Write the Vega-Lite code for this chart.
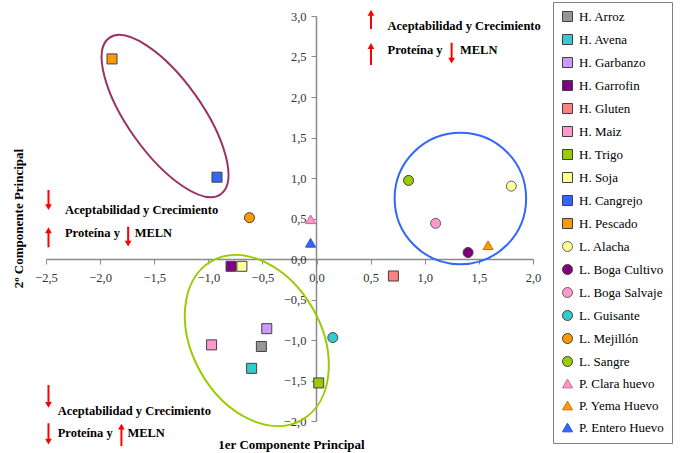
{
  "$schema": "https://vega.github.io/schema/vega-lite/v6.json",
  "width": 487,
  "height": 405,
  "autosize": "none",
  "padding": {"left": 46, "top": 16, "right": 149, "bottom": 32},
  "background": "white",
  "config": {"view": {"stroke": null}, "font": "Liberation Serif, Times New Roman, serif"},
  "datasets": {
    "points": [
      {"name": "H. Arroz", "x": -0.51, "y": -1.08},
      {"name": "H. Avena", "x": -0.60, "y": -1.35},
      {"name": "H. Garbanzo", "x": -0.46, "y": -0.86},
      {"name": "H. Garrofin", "x": -0.79, "y": -0.09},
      {"name": "H. Gluten", "x": 0.71, "y": -0.21},
      {"name": "H. Maiz", "x": -0.97, "y": -1.06},
      {"name": "H. Trigo", "x": 0.02, "y": -1.53},
      {"name": "H. Soja", "x": -0.69, "y": -0.09},
      {"name": "H. Cangrejo", "x": -0.92, "y": 1.01},
      {"name": "H. Pescado", "x": -1.89, "y": 2.47},
      {"name": "L. Alacha", "x": 1.80, "y": 0.90},
      {"name": "L. Boga Cultivo", "x": 1.40, "y": 0.08},
      {"name": "L. Boga Salvaje", "x": 1.10, "y": 0.44},
      {"name": "L. Guisante", "x": 0.15, "y": -0.97},
      {"name": "L. Mejillón", "x": -0.62, "y": 0.51},
      {"name": "L. Sangre", "x": 0.85, "y": 0.97},
      {"name": "P. Clara huevo", "x": -0.055, "y": 0.49},
      {"name": "P. Yema Huevo", "x": 1.585, "y": 0.17},
      {"name": "P. Entero Huevo", "x": -0.055, "y": 0.20}
    ],
    "arrows": [
      {"x": 0.503, "y": 2.84, "y2": 3.04, "dir": "up"},
      {"x": 0.503, "y": 2.395, "y2": 2.63, "dir": "up"},
      {"x": 1.248, "y": 2.67, "y2": 2.45, "dir": "down"},
      {"x": -2.477, "y": 0.852, "y2": 0.64, "dir": "down"},
      {"x": -2.477, "y": 0.144, "y2": 0.355, "dir": "up"},
      {"x": -1.741, "y": 0.399, "y2": 0.19, "dir": "down"},
      {"x": -2.477, "y": -1.556, "y2": -1.80, "dir": "down"},
      {"x": -2.477, "y": -2.028, "y2": -2.255, "dir": "down"},
      {"x": -1.803, "y": -2.309, "y2": -2.07, "dir": "up"}
    ],
    "notes": [
      {"x": 0.656, "y": 2.877, "label": "Aceptabilidad y Crecimiento"},
      {"x": 0.656, "y": 2.58, "label": "Proteína y"},
      {"x": 1.325, "y": 2.58, "label": "MELN"},
      {"x": -2.325, "y": 0.605, "label": "Aceptabilidad y Crecimiento"},
      {"x": -2.325, "y": 0.325, "label": "Proteína y"},
      {"x": -1.681, "y": 0.325, "label": "MELN"},
      {"x": -2.392, "y": -1.877, "label": "Aceptabilidad y Crecimiento"},
      {"x": -2.392, "y": -2.15, "label": "Proteína y"},
      {"x": -1.748, "y": -2.146, "label": "MELN"}
    ]
  },
  "encoding": {
    "x": {
      "field": "x", "type": "quantitative",
      "scale": {"domain": [-2.5, 2.0], "nice": false, "zero": false},
      "axis": {
        "values": [-2.5, -2, -1.5, -1, -0.5, 0, 0.5, 1, 1.5, 2],
        "labelExpr": "replace(format(datum.value, '.1f'), '.', ',')",
        "offset": -162, "grid": false,
        "domainColor": "#8a8a8a", "domainWidth": 1.5,
        "tickColor": "#8a8a8a", "tickSize": 5, "tickWidth": 1,
        "labelFont": "Liberation Serif, Times New Roman, serif", "labelFontSize": 12.5, "labelColor": "#333333",
        "labelPadding": 7, "labelFlush": false, "labelOverlap": false,
        "title": "1er Componente Principal",
        "titleFont": "Liberation Serif, Times New Roman, serif", "titleFontSize": 13, "titleFontWeight": "bold", "titleColor": "#000000",
        "titleX": 245, "titleY": 185, "titleAlign": "center", "titleBaseline": "middle"
      }
    },
    "y": {
      "field": "y", "type": "quantitative",
      "scale": {"domain": [-2.0, 3.0], "nice": false, "zero": false},
      "axis": {
        "values": [-2, -1.5, -1, -0.5, 0, 0.5, 1, 1.5, 2, 2.5, 3],
        "labelExpr": "replace(format(datum.value, '.1f'), '.', ',')",
        "offset": -270, "grid": false,
        "domainColor": "#8a8a8a", "domainWidth": 1.5,
        "tickColor": "#8a8a8a", "tickSize": 5, "tickWidth": 1,
        "labelFont": "Liberation Serif, Times New Roman, serif", "labelFontSize": 12.5, "labelColor": "#333333",
        "labelPadding": 5, "labelFlush": false, "labelOverlap": false,
        "title": "2º Componente Principal",
        "titleFont": "Liberation Serif, Times New Roman, serif", "titleFontSize": 13, "titleFontWeight": "bold", "titleColor": "#000000",
        "titleX": -298, "titleY": 202, "titleAngle": -90, "titleAlign": "center", "titleBaseline": "middle"
      }
    }
  },
  "layer": [
    {
      "data": {"values": [{"group": "pescado-cangrejo", "x": -1.40, "y": 1.765}]},
      "mark": {
        "type": "point", "filled": false, "stroke": "#993366", "strokeWidth": 2, "opacity": 1,
        "shape": "M 1 0 C 1 0.2127 0.5523 0.385 0 0.385 C -0.5523 0.385 -1 0.2127 -1 0 C -1 -0.2127 -0.5523 -0.385 0 -0.385 C 0.5523 -0.385 1 -0.2127 1 0 Z",
        "size": 36864, "angle": 54.5
      }
    },
    {
      "data": {"values": [{"group": "harinas", "x": -0.552, "y": -1.006}]},
      "mark": {
        "type": "point", "filled": false, "stroke": "#99cc00", "strokeWidth": 2, "opacity": 1,
        "shape": "M 1 0 C 1 0.39 0.5523 0.706 0 0.706 C -0.5523 0.706 -1 0.39 -1 0 C -1 -0.39 -0.5523 -0.706 0 -0.706 C 0.5523 -0.706 1 -0.39 1 0 Z",
        "size": 33343, "angle": 60.3
      }
    },
    {
      "data": {"values": [{"group": "lenteja", "x": 1.329, "y": 0.747}]},
      "mark": {
        "type": "point", "filled": false, "stroke": "#3366ff", "strokeWidth": 2, "opacity": 1,
        "shape": "M 1 0 C 1 0.5523 0.5523 1 0 1 C -0.5523 1 -1 0.5523 -1 0 C -1 -0.5523 -0.5523 -1 0 -1 C 0.5523 -1 1 -0.5523 1 0 Z",
        "size": 17292
      }
    },
    {
      "data": {"name": "points"},
      "mark": {"type": "point", "filled": true, "opacity": 1, "size": 100, "strokeWidth": 1},
      "encoding": {
        "color": {
          "field": "name", "type": "nominal", "title": null,
          "scale": {
            "domain": ["H. Arroz", "H. Avena", "H. Garbanzo", "H. Garrofin", "H. Gluten", "H. Maiz", "H. Trigo", "H. Soja", "H. Cangrejo", "H. Pescado", "L. Alacha", "L. Boga Cultivo", "L. Boga Salvaje", "L. Guisante", "L. Mejillón", "L. Sangre", "P. Clara huevo", "P. Yema Huevo", "P. Entero Huevo"],
            "range": ["#969696", "#33cccc", "#cc99ff", "#800080", "#ff8080", "#ff99cc", "#99cc00", "#ffff99", "#3366ff", "#ff9900", "#ffff99", "#800080", "#ff99cc", "#33cccc", "#ff9900", "#99cc00", "#ff99cc", "#ff9900", "#3366ff"]
          },
          "legend": {
            "orient": "none", "legendX": 507, "legendY": -14,
            "strokeColor": "#808080", "fillColor": "white", "padding": 8,
            "labelFont": "Liberation Serif, Times New Roman, serif", "labelFontSize": 13, "labelColor": "#000000",
            "labelOffset": 5, "rowPadding": 8, "symbolSize": 100, "symbolStrokeWidth": 1,
            "labelLimit": 200
          }
        },
        "stroke": {
          "field": "name", "type": "nominal", "title": null,
          "scale": {
            "domain": ["H. Arroz", "H. Avena", "H. Garbanzo", "H. Garrofin", "H. Gluten", "H. Maiz", "H. Trigo", "H. Soja", "H. Cangrejo", "H. Pescado", "L. Alacha", "L. Boga Cultivo", "L. Boga Salvaje", "L. Guisante", "L. Mejillón", "L. Sangre", "P. Clara huevo", "P. Yema Huevo", "P. Entero Huevo"],
            "range": ["#404040", "#404040", "#404040", "#404040", "#404040", "#404040", "#404040", "#404040", "#404040", "#404040", "#606060", "#404040", "#606060", "#404040", "#404040", "#404040", "#d06090", "#cc7000", "#2050d0"]
          }
        },
        "shape": {
          "field": "name", "type": "nominal", "title": null,
          "scale": {
            "domain": ["H. Arroz", "H. Avena", "H. Garbanzo", "H. Garrofin", "H. Gluten", "H. Maiz", "H. Trigo", "H. Soja", "H. Cangrejo", "H. Pescado", "L. Alacha", "L. Boga Cultivo", "L. Boga Salvaje", "L. Guisante", "L. Mejillón", "L. Sangre", "P. Clara huevo", "P. Yema Huevo", "P. Entero Huevo"],
            "range": ["square", "square", "square", "square", "square", "square", "square", "square", "square", "square", "circle", "circle", "circle", "circle", "circle", "circle", "triangle-up", "triangle-up", "triangle-up"]
          }
        }
      }
    },
    {
      "data": {"name": "arrows"},
      "mark": {"type": "rule", "color": "#ff0000", "strokeWidth": 2},
      "encoding": {"y2": {"field": "y2"}}
    },
    {
      "data": {"name": "arrows"},
      "transform": [{"filter": "datum.dir == 'up'"}],
      "mark": {"type": "point", "shape": "triangle-up", "filled": true, "color": "#ff0000", "size": 45, "opacity": 1},
      "encoding": {"y": {"field": "y2", "type": "quantitative"}}
    },
    {
      "data": {"name": "arrows"},
      "transform": [{"filter": "datum.dir == 'down'"}],
      "mark": {"type": "point", "shape": "triangle-down", "filled": true, "color": "#ff0000", "size": 45, "opacity": 1},
      "encoding": {"y": {"field": "y2", "type": "quantitative"}}
    },
    {
      "data": {"name": "notes"},
      "mark": {"type": "text", "align": "left", "baseline": "middle", "font": "Liberation Serif, Times New Roman, serif", "fontSize": 12.5, "fontWeight": "bold", "color": "#000000"},
      "encoding": {"text": {"field": "label"}}
    }
  ]
}
